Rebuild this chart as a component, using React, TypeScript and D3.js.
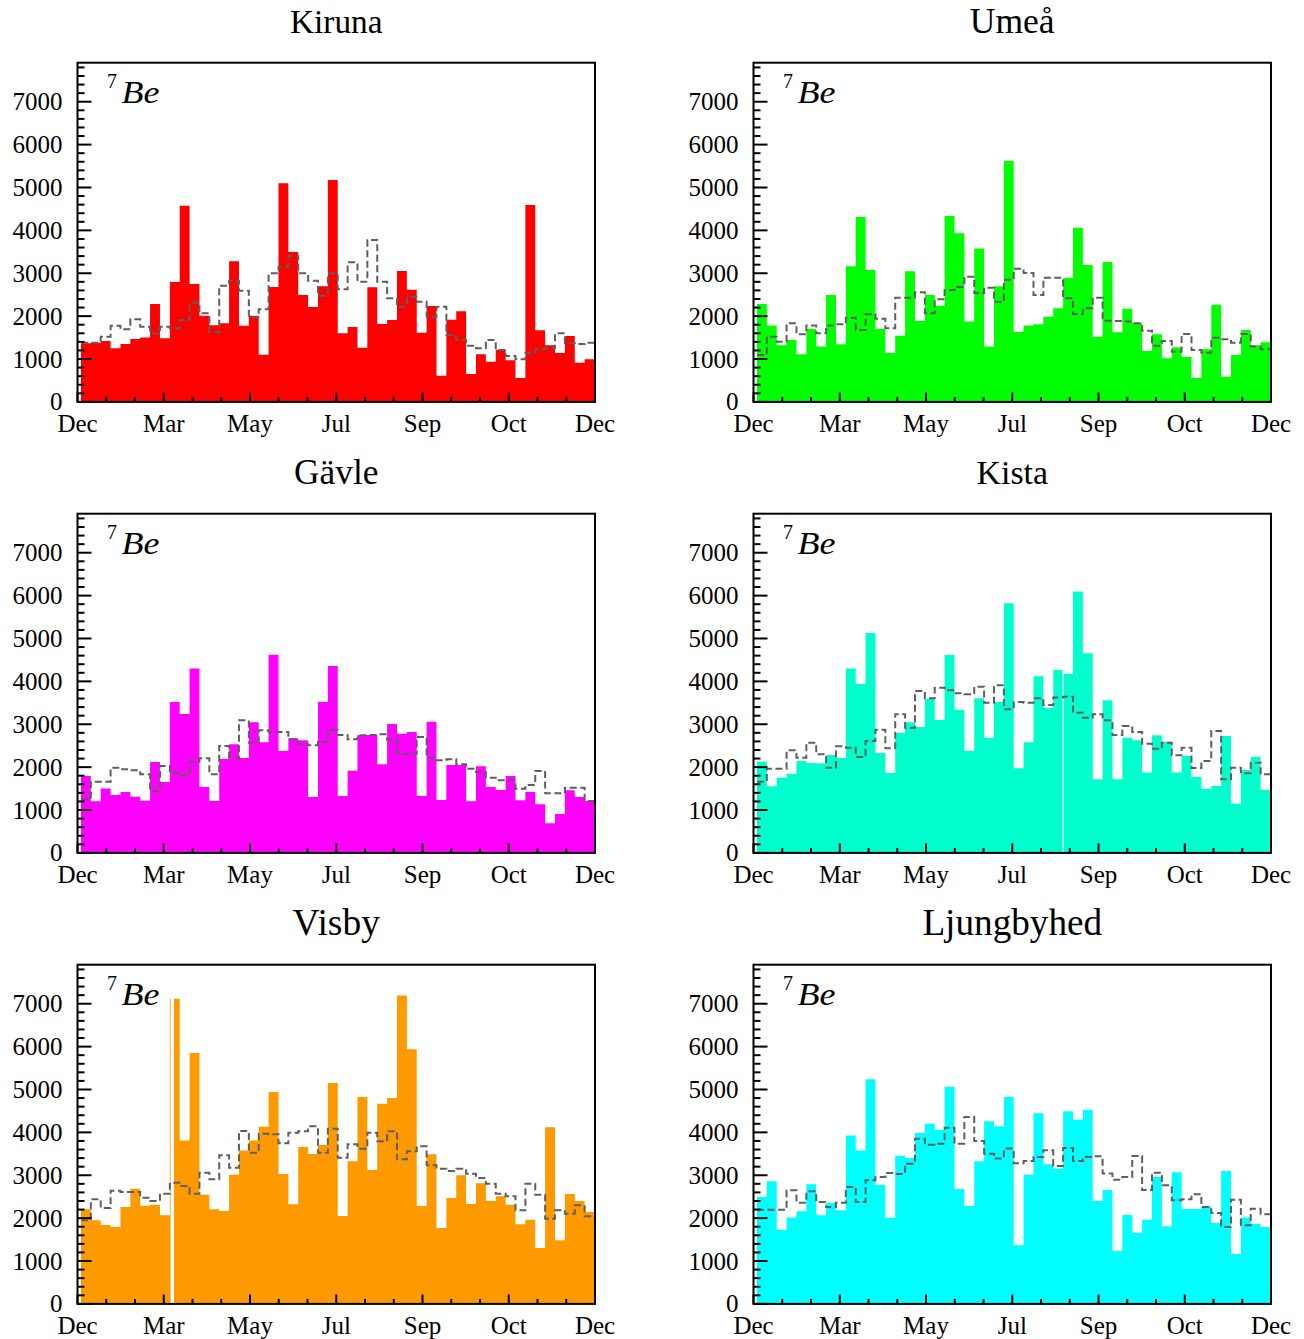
import React from "react";
import * as d3 from "d3";

const monthLabels = ["Dec", "Mar", "May", "Jul", "Sep", "Oct", "Dec"];
const yTickValues = [0, 1000, 2000, 3000, 4000, 5000, 6000, 7000];
const yMax = 7910;

const kirunaMeas = [1366,1381,1420,1250,1351,1468,1499,2284,1483,2796,4576,2750,2011,1786,1833,3278,1778,2011,1101,2681,5096,3495,2493,2213,2697,5174,1599,1746,1265,2673,1817,1911,3053,2618,1614,2236,612,1918,2112,650,1109,938,1218,969,557,4592,1669,1320,1141,1538,915,993];
const kirunaModel = [1382,1382,1522,1778,1693,1926,1755,1600,1755,1716,1911,2315,2066,1623,2711,2828,2594,1972,2159,2998,3153,3402,2998,2828,2478,2998,2625,3254,2804,3776,2804,2415,2221,2454,2338,1988,2221,1561,1444,1312,1250,1444,1211,1071,993,1149,1227,1250,1600,1366,1351,1382];

const umeaMeas = [2283,1779,1320,1444,1110,1701,1289,2493,1342,3161,4312,3075,1701,1141,1545,3045,1888,2493,2245,4334,3930,1872,3580,1289,2697,5617,1630,1779,1810,1988,2183,2890,4062,3191,1521,3263,1622,2174,1841,1187,1576,1017,1273,1048,557,1226,2268,588,1094,1677,1320,1390];
const umeaModel = [1094,1521,1405,1833,1576,1779,1600,1779,1810,1965,1677,2042,1941,1716,2431,2431,2555,2066,2392,2610,2680,2921,2540,2664,2337,2851,3107,3006,2493,2897,2897,2415,2050,2182,2431,1894,1887,1872,1833,1661,1312,1421,1172,1584,1210,1148,1498,1459,1382,1584,1289,1226];

const gavleMeas = [1792,1203,1499,1351,1421,1312,1218,2120,1653,3518,3238,4303,1535,1211,2190,2532,2213,3045,2579,4622,2376,2672,2626,1303,3518,4358,1327,1917,2750,2750,2066,3006,2781,2820,1327,3060,1234,2050,2050,1203,2019,1535,1468,1792,1226,1421,1133,689,907,1459,1303,1211];
const gavleModel = [1249,1661,1661,1987,1948,1925,1832,1444,2026,1855,1809,2127,2205,1832,2493,2221,3091,2570,2858,2819,2819,2648,2532,2508,2586,2866,2750,2648,2742,2750,2765,2641,2314,2314,2703,2221,2159,2182,2066,1965,1887,1755,1693,1693,1498,1584,1910,1389,1389,1521,1521,1211];

const kistaMeas = [2127,1552,1755,1848,2143,2096,2089,2283,2213,4303,3938,5127,2329,1864,2804,3045,2936,3596,3099,4615,3339,2376,3604,2688,3518,5819,1972,2579,4117,3378,4265,4179,6097,4654,1720,3557,1716,2688,2626,1872,2742,2594,1872,2260,1771,1498,1560,2726,1148,1934,2245,1468];
const kistaModel = [1661,1965,1965,2392,2221,2571,2299,1987,2485,2454,2237,2610,2874,2439,3232,2921,3776,3605,3854,3792,3722,3699,3877,3504,3908,3349,3520,3504,3605,3450,3621,3644,3271,3154,3232,3092,2750,2960,2820,2548,2431,2571,2275,2454,1980,2143,2843,1716,1987,1855,2104,1833];
const kistaGaps = [[30.93, 31.04]];

const visbyMeas = [2205,1948,1840,1794,2260,2688,2291,2314,2066,7116,3811,5850,2548,2205,2166,3014,3580,3811,4130,4939,3029,2322,3658,3495,3705,5149,2050,3328,4824,3122,4669,4800,7194,5936,2283,3487,1771,2469,2999,2330,2812,2400,2509,2314,1856,1964,1303,4117,1483,2563,2400,2143];
const visbyModel = [1948,2438,2236,2641,2610,2610,2478,2400,2571,2827,2750,2571,3060,2905,3464,3177,4032,3526,3970,3955,3745,3993,4024,4141,3526,4086,3410,3721,3620,3993,3791,4024,3371,3557,3674,3231,3154,3099,3154,3037,2936,2804,2571,2509,2182,2804,2548,1987,2182,2104,2299,2042];
const visbyGaps = [[9.08, 9.42]];

const ljungMeas = [2493,2858,1732,2017,2159,2789,2066,2361,2182,3929,3580,5236,2774,2009,3457,3403,3985,4203,4063,5065,2680,2283,3328,4257,4141,4824,1366,3014,4444,3255,3154,4490,4296,4529,2400,2656,1234,2074,1661,1965,2968,1810,3068,2213,2213,2276,1887,3099,1164,2017,1864,1794];
const ljungModel = [2197,2197,2197,2648,2361,2625,2376,2259,2361,2726,2376,2882,2960,3053,3030,3271,3854,3714,3737,4110,3737,4359,3799,3504,3388,3621,3279,3333,3426,3582,3216,3636,3333,3426,3442,3038,2898,2960,3450,2657,3061,2766,2416,2439,2555,2259,2120,1794,2431,1833,2221,2089];

const stationNames = ["Kiruna", "Umeå", "Gävle", "Kista", "Visby", "Ljungbyhed"];
const stationMeas = [kirunaMeas, umeaMeas, gavleMeas, kistaMeas, visbyMeas, ljungMeas];
const stationModel = [kirunaModel, umeaModel, gavleModel, kistaModel, visbyModel, ljungModel];
const stationGaps = [[], [], [], kistaGaps, visbyGaps, []];

// styles
const stationColors = ["#ff0000", "#00ff00", "#ff00ff", "#00ffcc", "#ff9900", "#00ffff"];
const titleFontSizes = [33.3, 35.5, 35.3, 33.8, 37.5, 37.2];

const W = 1304;
const H = 1339;
const plotW = 517.5;
const plotH = 339.2;
const colX = [77.5, 753.5];
const rowY = [62.7, 513.7, 964.7];
const FONT = "'Liberation Serif', 'Times New Roman', serif";

const nBins = 52;
const x = d3.scaleLinear().domain([-0.35, nBins + 0.05]).range([0, plotW]);
const y = d3.scaleLinear().domain([0, yMax]).range([plotH, 0]);
const lab = d3.scaleLinear().domain([0, monthLabels.length - 1]).range([0, plotW]);

const stepPts = (vals: number[]) => [...vals, vals[vals.length - 1]];
const areaGen = d3
  .area<number>()
  .x((_, i) => x(i))
  .y0(plotH)
  .y1((d) => y(d))
  .curve(d3.curveStepAfter);
const lineGen = d3
  .line<number>()
  .x((_, i) => x(i))
  .y((d) => y(d))
  .curve(d3.curveStepAfter);

const yMinor = d3.range(200, yMax, 200).filter((v) => v % 1000 !== 0);
const xMinor = d3.range(0, monthLabels.length - 1 + 0.001, 1 / 3).filter((v) => Math.abs(v - Math.round(v)) > 0.01);

function Panel({ idx }: { idx: number }) {
  const col = idx % 2;
  const row = Math.floor(idx / 2);
  const tx = colX[col];
  const ty = rowY[row];
  const meas = stationMeas[idx];
  const model = stationModel[idx];
  const gaps = stationGaps[idx] as number[][];
  return (
    <g transform={`translate(${tx},${ty})`}>
      <text x={plotW / 2} y={-29.5} textAnchor="middle" fontFamily={FONT} fontSize={titleFontSizes[idx]} fill="#000">
        {stationNames[idx]}
      </text>
      <path d={areaGen(stepPts(meas)) || ""} fill={stationColors[idx]} stroke="none" />
      {gaps.map((g, i) => (
        <rect key={i} x={x(g[0])} y={0} width={x(g[1]) - x(g[0])} height={plotH} fill="#fff" />
      ))}
      <path
        d={lineGen(stepPts(model)) || ""}
        fill="none"
        stroke="#5f5f5f"
        strokeWidth={2}
        strokeDasharray="7,3.5"
      />
      {yTickValues.map((v) => (
        <line key={"ym" + v} x1={0} x2={14} y1={y(v)} y2={y(v)} stroke="#000" strokeWidth={2} />
      ))}
      {yMinor.map((v) => (
        <line key={"yn" + v} x1={0} x2={7} y1={y(v)} y2={y(v)} stroke="#000" strokeWidth={2} />
      ))}
      {monthLabels.map((_, i) => (
        <line key={"xm" + i} x1={lab(i)} x2={lab(i)} y1={plotH} y2={plotH - 9.5} stroke="#000" strokeWidth={2} />
      ))}
      {xMinor.map((v, i) => (
        <line key={"xn" + i} x1={lab(v)} x2={lab(v)} y1={plotH} y2={plotH - 5} stroke="#000" strokeWidth={2} />
      ))}
      <rect x={0} y={0} width={plotW} height={plotH} fill="none" stroke="#000" strokeWidth={2} />
      {yTickValues.map((v) => (
        <text
          key={"yl" + v}
          x={-15}
          y={y(v)}
          dy="0.34em"
          textAnchor="end"
          fontFamily={FONT}
          fontSize={25}
          fill="#000"
        >
          {v}
        </text>
      ))}
      {monthLabels.map((m, i) => (
        <text
          key={"xl" + i}
          x={lab(i)}
          y={plotH + 30}
          textAnchor="middle"
          fontFamily={FONT}
          fontSize={25}
          fill="#000"
        >
          {m}
        </text>
      ))}
      <text x={29.5} y={25.5} fontFamily={FONT} fontSize={20} fill="#000">
        7
      </text>
      <text
        x={44}
        y={40}
        fontFamily={FONT}
        fontStyle="italic"
        fontSize={31}
        fill="#000"
        textLength={38}
        lengthAdjust="spacingAndGlyphs"
      >
        Be
      </text>
    </g>
  );
}

export default function App() {
  return (
    <svg
      width={W}
      height={H}
      viewBox={`0 0 ${W} ${H}`}
      style={{ position: "absolute", left: 0, top: 0, background: "#fff" }}
    >
      <rect x={0} y={0} width={W} height={H} fill="#fff" />
      {stationNames.map((_, i) => (
        <Panel key={i} idx={i} />
      ))}
    </svg>
  );
}
